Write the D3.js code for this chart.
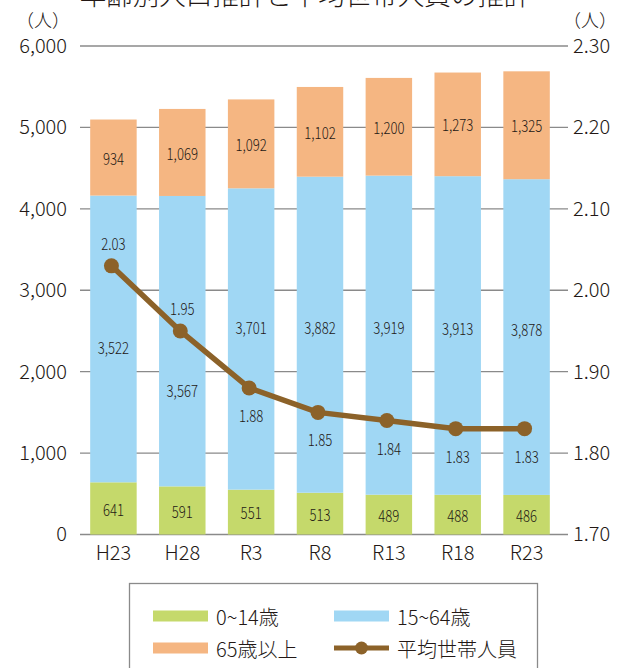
<!DOCTYPE html>
<html>
<head>
<meta charset="utf-8">
<script src="https://cdn.jsdelivr.net/npm/d3@7"></script>
<style>
  html, body { margin: 0; padding: 0; background: #fff; }
  svg { display: block; font-family: "Noto Sans CJK JP", "Noto Sans", sans-serif; font-weight: 300; }
</style>
</head>
<body>
<svg id="chart" width="636" height="668"></svg>
<script>
// ---- data ----
const categories = ["H23", "H28", "R3", "R8", "R13", "R18", "R23"];
const age0to14   = [641, 591, 551, 513, 489, 488, 486];
const age15to64  = [3522, 3567, 3701, 3882, 3919, 3913, 3878];
const age65plus  = [934, 1069, 1092, 1102, 1200, 1273, 1325];
const avgHousehold = [2.03, 1.95, 1.88, 1.85, 1.84, 1.83, 1.83];
const leftTicks  = [0, 1000, 2000, 3000, 4000, 5000, 6000];
const rightTicks = [1.70, 1.80, 1.90, 2.00, 2.10, 2.20, 2.30];
const seriesNames = ["0~14歳", "15~64歳", "65歳以上", "平均世帯人員"];
const titleText = "年齢別人口推計と平均世帯人員の推計";
const unitText = "（人）";

// ---- style ----
const colors = { green: "#c5d96b", blue: "#a0d7f4", orange: "#f5b682", line: "#8c6229", text: "#231815", grid: "#8a8a8a" };

const svg = d3.select("#chart");
const plotLeft = 80, plotRight = 568, plotTop = 46, plotBottom = 534.5;

const x = d3.scaleBand().domain(categories).range([79, 561]).paddingInner(0.325).paddingOuter(0.1625);
const y = d3.scaleLinear().domain([0, 6000]).range([plotBottom, plotTop]);
const y2 = d3.scaleLinear().domain([1.70, 2.30]).range([plotBottom, plotTop]);

// title (cut off at top, as in the reference)
svg.append("text").attr("x", 305).attr("y", 5).attr("text-anchor", "middle")
  .attr("font-size", 26.5).attr("fill", colors.text).text(titleText);

// unit labels
svg.append("text").attr("x", 43).attr("y", 19).attr("text-anchor", "middle").attr("dominant-baseline", "central")
  .attr("font-size", 18).attr("fill", colors.text).text(unitText);
svg.append("text").attr("x", 590).attr("y", 19).attr("text-anchor", "middle").attr("dominant-baseline", "central")
  .attr("font-size", 18).attr("fill", colors.text).text(unitText);

// gridlines
svg.append("g").selectAll("line").data(leftTicks).join("line")
  .attr("x1", plotLeft).attr("x2", plotRight)
  .attr("y1", d => y(d)).attr("y2", d => y(d))
  .attr("stroke", colors.grid).attr("stroke-width", 1.4);

// left axis
const leftAxis = svg.append("g").attr("transform", `translate(${plotLeft},0)`)
  .call(d3.axisLeft(y).tickValues(leftTicks).tickFormat(d3.format(",")).tickSize(0).tickPadding(13));
leftAxis.select(".domain").remove();
leftAxis.selectAll("text").attr("font-size", 20).attr("fill", colors.text)
  .attr("font-family", "'Noto Sans CJK JP', sans-serif").attr("font-weight", 300);

// right axis
const rightAxis = svg.append("g").attr("transform", `translate(${plotRight},0)`)
  .call(d3.axisRight(y2).tickValues(rightTicks).tickFormat(d3.format(".2f")).tickSize(0).tickPadding(5));
rightAxis.select(".domain").remove();
rightAxis.selectAll("text").attr("font-size", 20).attr("fill", colors.text)
  .attr("font-family", "'Noto Sans CJK JP', sans-serif").attr("font-weight", 300);

// x axis labels
const xAxis = svg.append("g").attr("transform", `translate(0,${plotBottom})`)
  .call(d3.axisBottom(x).tickSize(0).tickPadding(11));
xAxis.select(".domain").remove();
xAxis.selectAll("text").attr("font-size", 20).attr("fill", colors.text)
  .attr("font-family", "'Noto Sans CJK JP', sans-serif").attr("font-weight", 300);

// stacked bars
const rows = categories.map((c, i) => ({ cat: c, a: age0to14[i], b: age15to64[i], c65: age65plus[i] }));
const stack = d3.stack().keys(["a", "b", "c65"])(rows);
const fills = [colors.green, colors.blue, colors.orange];
const barG = svg.append("g");
stack.forEach((layer, li) => {
  barG.append("g").selectAll("rect").data(layer).join("rect")
    .attr("x", d => x(d.data.cat)).attr("width", x.bandwidth())
    .attr("y", d => y(d[1])).attr("height", d => y(d[0]) - y(d[1]))
    .attr("fill", fills[li]);
});

// bar labels
const fmt = d3.format(",");
function barLabel(cx, cy, txt) {
  svg.append("text").attr("transform", `translate(${cx},${cy}) scale(0.82,1)`)
    .attr("text-anchor", "middle").attr("dominant-baseline", "central")
    .attr("font-size", 16).attr("fill", colors.text).text(txt);
}
// label placement tweaks for middle segment (avoid the line)
const midShift = [8, 49, -12, -8, -8, -8, -8];
stack.forEach((layer, li) => {
  layer.forEach((d, i) => {
    const cx = x(d.data.cat) + x.bandwidth() / 2;
    let cy = (y(d[0]) + y(d[1])) / 2;
    if (li === 1) cy += midShift[i];
    barLabel(cx, cy, fmt(d[1] - d[0]));
  });
});

// line
const pts = categories.map((c, i) => [x(c) + x.bandwidth() / 2 - 2, y2(avgHousehold[i])]);
svg.append("path").datum(pts)
  .attr("d", d3.line())
  .attr("fill", "none").attr("stroke", colors.line).attr("stroke-width", 5.5)
  .attr("stroke-linejoin", "round");
svg.append("g").selectAll("circle").data(pts).join("circle")
  .attr("cx", d => d[0]).attr("cy", d => d[1]).attr("r", 7.5).attr("fill", colors.line);

// line labels
pts.forEach((p, i) => {
  const dy = i < 2 ? -23 : 27;
  barLabel(p[0] + 2, p[1] + dy, d3.format(".2f")(avgHousehold[i]));
});

// legend
svg.append("rect").attr("x", 129.5).attr("y", 583.5).attr("width", 408).attr("height", 100)
  .attr("fill", "#fff").attr("stroke", "#8a8a8a").attr("stroke-width", 1.3);
const legendItems = [
  { name: seriesNames[0], type: "rect", color: colors.green, x: 153, y: 616 },
  { name: seriesNames[1], type: "rect", color: colors.blue, x: 334, y: 616 },
  { name: seriesNames[2], type: "rect", color: colors.orange, x: 153, y: 648 },
  { name: seriesNames[3], type: "line", color: colors.line, x: 334, y: 648 }
];
legendItems.forEach(it => {
  if (it.type === "rect") {
    svg.append("rect").attr("x", it.x).attr("y", it.y - 5.5).attr("width", 55).attr("height", 11).attr("fill", it.color);
  } else {
    svg.append("line").attr("x1", it.x).attr("x2", it.x + 55).attr("y1", it.y).attr("y2", it.y)
      .attr("stroke", it.color).attr("stroke-width", 5);
    svg.append("circle").attr("cx", it.x + 27.5).attr("cy", it.y).attr("r", 6.5).attr("fill", it.color);
  }
  svg.append("text").attr("x", it.x + 63).attr("y", it.y).attr("dominant-baseline", "central")
    .attr("font-size", 20).attr("fill", colors.text).text(it.name);
});
</script>
</body>
</html>
